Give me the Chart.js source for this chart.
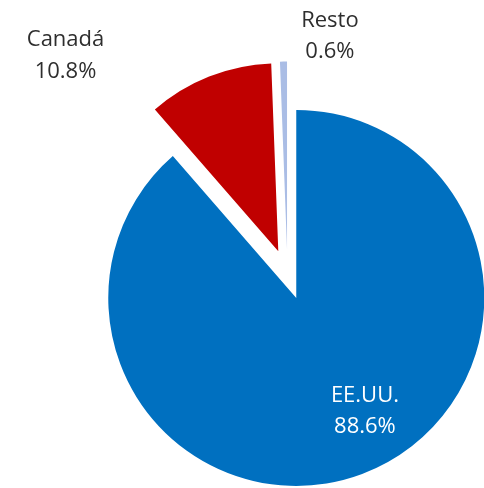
<!DOCTYPE html>
<html><head><meta charset="utf-8">
<script src="https://cdn.jsdelivr.net/npm/chart.js@4/dist/chart.umd.min.js"></script>
<style>html,body{margin:0;padding:0;background:#fff}#wrap{width:484px;height:488px}</style>
</head><body><div id="wrap"><canvas id="c" width="484" height="488"></canvas></div>
<script>
// Data
const categories = ['EE.UU.', 'Canadá', 'Resto'];
const shares = [88.6, 10.8, 0.6];
const valueLabels = ['88.6%', '10.8%', '0.6%'];

// Styles
const colors = ['#0070C0', '#C00000', '#AABDE5'];
const explodePx = [25, 25, 25];      // radial explosion of each slice, px
const labelColors = ['#FFFFFF', '#2E2E2E', '#2E2E2E'];
// label block centre relative to each exploded slice's vertex: [angle deg, distance px]
const labelPolar = [[58.5, 131.4], [222.8, 290], [281.3, 218.8]];

const explodePlugin = {
  id: 'explodeSlices',
  afterDatasetsUpdate(chart) {
    const meta = chart.getDatasetMeta(0);
    meta.data.forEach((el, i) => {
      const half = (el.startAngle + el.endAngle) / 2;
      el.x = el.x + Math.cos(half) * explodePx[i];
      el.y = el.y + Math.sin(half) * explodePx[i];
    });
  }
};

const labelPlugin = {
  id: 'sliceLabels',
  afterDatasetsDraw(chart) {
    const ctx = chart.ctx;
    const meta = chart.getDatasetMeta(0);
    ctx.save();
    ctx.font = '22px "Open Sans"';
    ctx.textAlign = 'center';
    ctx.textBaseline = 'alphabetic';
    meta.data.forEach((el, i) => {
      const a = labelPolar[i][0] * Math.PI / 180;
      const cx = el.x + Math.cos(a) * labelPolar[i][1];
      const cy = el.y + Math.sin(a) * labelPolar[i][1];
      ctx.fillStyle = labelColors[i];
      ctx.fillText(categories[i], cx, cy - 8);
      ctx.fillText(valueLabels[i], cx, cy + 23.5);
    });
    ctx.restore();
  }
};

new Chart(document.getElementById('c'), {
  type: 'pie',
  data: {
    labels: categories,
    datasets: [{
      data: shares,
      backgroundColor: colors,
      borderWidth: 0,
      hoverOffset: 0
    }]
  },
  options: {
    responsive: false,
    devicePixelRatio: 1,
    animation: false,
    events: [],
    radius: 188,
    layout: { padding: { left: 91, top: 61, right: 0, bottom: 0 } },
    plugins: { legend: { display: false }, tooltip: { enabled: false } }
  },
  plugins: [explodePlugin, labelPlugin]
});
</script>
</body></html>
